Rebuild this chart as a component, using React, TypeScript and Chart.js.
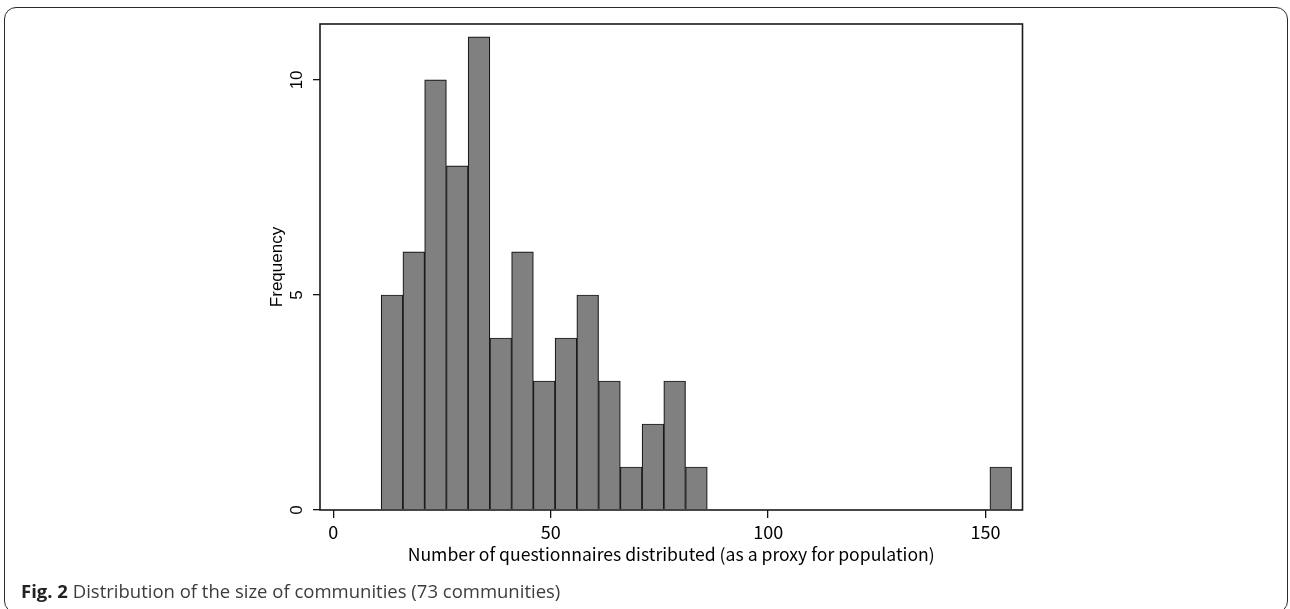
import React, { useEffect, useRef } from "react";
import { Chart, registerables } from "chart.js";

Chart.register(...registerables);

// ---- data ----
const binLowerEdges = [11, 16, 21, 26, 31, 36, 41, 46, 51, 56, 61, 66, 71, 76, 81, 151];
const frequencies = [5, 6, 10, 8, 11, 4, 6, 3, 4, 5, 3, 1, 2, 3, 1, 1];
const binWidth = 5;
const xTickValues = [0, 50, 100, 150];
const yTickValues = [0, 5, 10];
const xAxisTitle = "Number of questionnaires distributed (as a proxy for population)";
const yAxisTitle = "Frequency";
const captionBold = "Fig. 2";
const captionText = " Distribution of the size of communities (73 communities)";

const plotBorder = {
  id: "plotBorder",
  afterDatasetsDraw(chart: any) {
    const { ctx, chartArea } = chart;
    ctx.save();
    ctx.strokeStyle = "#1a1a1a";
    ctx.lineWidth = 1.6;
    ctx.strokeRect(chartArea.left, chartArea.top, chartArea.right - chartArea.left, chartArea.bottom - chartArea.top);
    ctx.restore();
  },
};

export default function App() {
  const ref = useRef<HTMLCanvasElement | null>(null);

  useEffect(() => {
    if (!ref.current) return;
    const chart = new Chart(ref.current, {
      type: "bar",
      data: {
        datasets: [
          {
            data: binLowerEdges.map((s, i) => ({ x: s + binWidth / 2, y: frequencies[i] })),
            backgroundColor: "#808080",
            borderColor: "#1a1a1a",
            borderWidth: 1.2,
            barPercentage: 1,
            categoryPercentage: 1,
          } as any,
        ],
      },
      plugins: [plotBorder],
      options: {
        animation: false,
        responsive: false,
        maintainAspectRatio: false,
        layout: { padding: { left: 267, right: 267.5, top: 24, bottom: 39 } },
        plugins: { legend: { display: false }, tooltip: { enabled: false } },
        scales: {
          x: {
            type: "linear",
            min: -3.07,
            max: 158.5,
            offset: false,
            afterFit: (s: any) => {
              s.height = 60;
            },
            afterBuildTicks: (s: any) => {
              s.ticks = xTickValues.map((v) => ({ value: v }));
            },
            grid: {
              offset: false,
              display: true,
              drawOnChartArea: false,
              drawTicks: true,
              tickLength: 8,
              color: "#111",
              lineWidth: 1.3,
            },
            border: { display: false },
            ticks: {
              padding: 3,
              color: "#000",
              maxRotation: 0,
              minRotation: 0,
              font: { family: "'Noto Sans CJK JP'", size: 18 },
            },
            title: {
              display: true,
              text: xAxisTitle,
              color: "#000",
              padding: { top: 0, bottom: 5 },
              font: { family: "'Noto Sans CJK JP'", size: 17.6 },
            },
          },
          y: {
            type: "linear",
            min: 0,
            max: 11.3,
            afterFit: (s: any) => {
              s.width = 53;
            },
            afterBuildTicks: (s: any) => {
              s.ticks = yTickValues.map((v) => ({ value: v }));
            },
            grid: {
              display: true,
              drawOnChartArea: false,
              drawTicks: true,
              tickLength: 7,
              color: "#111",
              lineWidth: 1.3,
            },
            border: { display: false },
            ticks: {
              padding: 6,
              color: "#000",
              crossAlign: "center",
              minRotation: 90,
              maxRotation: 90,
              font: { family: "'Liberation Sans'", size: 17 },
            },
            title: {
              display: true,
              text: yAxisTitle,
              color: "#000",
              padding: { top: 0, bottom: 0 },
              font: { family: "'Liberation Sans'", size: 17 },
            },
          },
        },
      } as any,
    });
    return () => chart.destroy();
  }, []);

  return (
    <div style={{ position: "fixed", left: 0, top: 0, width: 1290, height: 609, overflow: "hidden", background: "#fff" }}>
      <div
        style={{
          position: "absolute",
          left: 4,
          top: 7,
          width: 1284,
          height: 606,
          boxSizing: "border-box",
          border: "1.6px solid #2a2a2a",
          borderRadius: 12,
        }}
      />
      <canvas ref={ref} width={1290} height={609} style={{ position: "absolute", left: 0, top: 0, width: 1290, height: 609 }} />
      <div
        style={{
          position: "absolute",
          left: 21,
          top: 580,
          fontFamily: "'Open Sans', sans-serif",
          fontSize: 18.5,
          lineHeight: "22px",
          color: "#3c3c3c",
          whiteSpace: "nowrap",
        }}
      >
        <span style={{ fontWeight: 700, color: "#222" }}>{captionBold}</span>
        {captionText}
      </div>
    </div>
  );
}
